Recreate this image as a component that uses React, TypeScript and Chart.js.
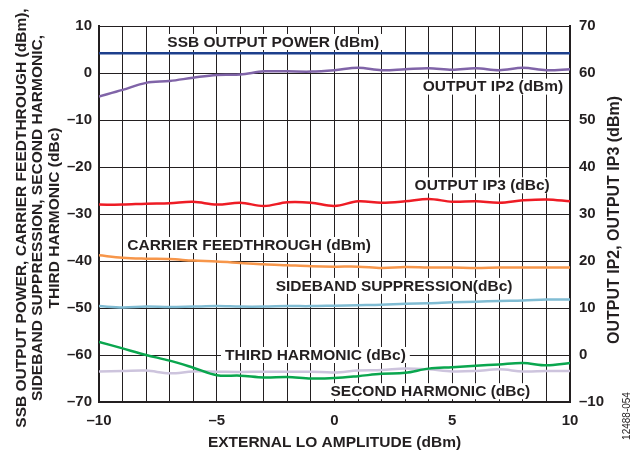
import React, { useEffect, useRef } from "react";
import { Chart, registerables } from "chart.js";

Chart.register(...registerables);

const X_VALUES = [-10, -9, -8, -7, -6, -5, -4, -3, -2, -1, 0, 1, 2, 3, 4, 5, 6, 7, 8, 9, 10];
const SSB_POWER = [4.2, 4.2, 4.2, 4.2, 4.2, 4.2, 4.2, 4.2, 4.2, 4.2, 4.2, 4.2, 4.2, 4.2, 4.2, 4.2, 4.2, 4.2, 4.2, 4.2, 4.2];
const OUTPUT_IP2 = [55.0, 56.4, 57.9, 58.3, 59.0, 59.6, 59.7, 60.35, 60.35, 60.3, 60.6, 61.1, 60.6, 60.8, 61.0, 60.7, 61.0, 60.6, 61.1, 60.6, 60.8];
const OUTPUT_IP3 = [32.0, 32.0, 32.2, 32.3, 32.6, 32.0, 32.4, 31.7, 32.5, 32.4, 31.7, 32.7, 32.4, 32.7, 33.2, 32.6, 32.7, 32.4, 32.9, 33.1, 32.7];
const CARRIER_FT = [-38.8, -39.3, -39.5, -39.6, -39.9, -40.1, -40.4, -40.7, -40.9, -41.1, -41.2, -41.2, -41.5, -41.3, -41.4, -41.4, -41.5, -41.4, -41.4, -41.4, -41.4];
const SIDEBAND_SUP = [-49.6, -49.9, -49.7, -49.8, -49.7, -49.6, -49.7, -49.7, -49.6, -49.6, -49.5, -49.4, -49.3, -49.1, -49.0, -48.8, -48.65, -48.5, -48.4, -48.2, -48.2];
const THIRD_HARM = [-57.2, -58.6, -60.0, -61.2, -62.7, -64.3, -64.4, -64.8, -64.7, -65.0, -64.9, -64.5, -64.0, -63.8, -62.9, -62.6, -62.3, -62.0, -61.7, -62.2, -61.7];
const SECOND_HARM = [-63.5, -63.4, -63.3, -63.9, -63.5, -63.55, -63.6, -63.55, -63.55, -63.55, -63.7, -63.3, -63.2, -62.85, -63.05, -63.5, -63.4, -63.05, -63.5, -63.4, -63.4];

const LEFT_TITLE = ["SSB OUTPUT POWER, CARRIER FEEDTHROUGH (dBm),", "SIDEBAND SUPPRESSION, SECOND HARMONIC,", "THIRD HARMONIC (dBc)"];
const RIGHT_TITLE = "OUTPUT IP2, OUTPUT IP3 (dBm)";
const X_TITLE = "EXTERNAL LO AMPLITUDE (dBm)";
const FIG_TAG = "12488-054";

// series label texts with anchor positions (x in data units, y in left-axis data units)
const SERIES_LABELS = [
  "SSB OUTPUT POWER (dBm)",
  "OUTPUT IP2 (dBm)",
  "OUTPUT IP3 (dBc)",
  "CARRIER FEEDTHROUGH (dBm)",
  "SIDEBAND SUPPRESSION(dBc)",
  "THIRD HARMONIC (dBc)",
  "SECOND HARMONIC (dBc)",
];
const LABEL_X = [-7.1, 3.75, 3.4, -8.8, -2.5, -4.65, -0.17];
const LABEL_Y = [6.6, -2.9, -23.9, -36.6, -45.3, -60.0, -67.7];

const FONT = "'Liberation Sans', Arial, sans-serif";
const INK = "#231f20";

const fmt = (v: number) => (v < 0 ? "\u2013" + Math.abs(v) : String(v));

const pts = (ys: number[]) => X_VALUES.map((x, i) => ({ x, y: ys[i] }));

export default function App() {
  const ref = useRef<HTMLCanvasElement | null>(null);

  useEffect(() => {
    document.body.style.margin = "0";
    const canvas = ref.current;
    if (!canvas) return;

    const decorPlugin = {
      id: "decor",
      afterDatasetsDraw(chart: any) {
        const ctx = chart.ctx;
        const xs = chart.scales.x;
        const ys = chart.scales.y;
        ctx.save();
        ctx.font = `bold 15.5px ${FONT}`;
        ctx.textBaseline = "middle";
        ctx.textAlign = "left";
        SERIES_LABELS.forEach((t, i) => {
          const px = xs.getPixelForValue(LABEL_X[i]);
          const py = ys.getPixelForValue(LABEL_Y[i]);
          const w = ctx.measureText(t).width;
          ctx.fillStyle = "#ffffff";
          ctx.fillRect(px - 4, py - 8, w + 8, 16);
          ctx.fillStyle = INK;
          ctx.fillText(t, px, py + 0.5);
        });
        ctx.restore();
      },
      afterDraw(chart: any) {
        const ctx = chart.ctx;
        const area = chart.chartArea;
        ctx.save();
        ctx.fillStyle = INK;
        ctx.textAlign = "center";
        ctx.textBaseline = "middle";
        ctx.font = `bold 15.5px ${FONT}`;
        // left title
        const lx = [21.5, 38, 54.5];
        LEFT_TITLE.forEach((t, i) => {
          ctx.save();
          ctx.translate(lx[i], 218);
          ctx.rotate(-Math.PI / 2);
          ctx.fillText(t, 0, 0);
          ctx.restore();
        });
        // right title
        ctx.save();
        ctx.font = `bold 16px ${FONT}`;
        ctx.translate(614.5, 220);
        ctx.rotate(-Math.PI / 2);
        ctx.fillText(RIGHT_TITLE, 0, 0);
        ctx.restore();
        // x title
        ctx.fillText(X_TITLE, (area.left + area.right) / 2, 443);
        // figure tag
        ctx.save();
        ctx.font = `10px ${FONT}`;
        ctx.translate(627, 416);
        ctx.rotate(-Math.PI / 2);
        ctx.fillText(FIG_TAG, 0, 0);
        ctx.restore();
        ctx.restore();
      },
    };

    const mk = (label: string, ys: number[], color: string, axis: string) => ({
      label,
      data: pts(ys),
      borderColor: color,
      backgroundColor: color,
      borderWidth: 2.5,
      pointRadius: 0,
      tension: 0.35,
      yAxisID: axis,
      fill: false,
    });

    const chart = new Chart(canvas, {
      type: "line",
      data: {
        datasets: [
          mk("SSB OUTPUT POWER (dBm)", SSB_POWER, "#1d3f8c", "y"),
          mk("OUTPUT IP2 (dBm)", OUTPUT_IP2, "#8064a8", "y1"),
          mk("OUTPUT IP3 (dBc)", OUTPUT_IP3, "#ee1c25", "y1"),
          mk("CARRIER FEEDTHROUGH (dBm)", CARRIER_FT, "#f7964a", "y"),
          mk("SIDEBAND SUPPRESSION(dBc)", SIDEBAND_SUP, "#80bcd3", "y"),
          mk("THIRD HARMONIC (dBc)", THIRD_HARM, "#0aa64e", "y"),
          mk("SECOND HARMONIC (dBc)", SECOND_HARM, "#cdc4dd", "y"),
        ],
      },
      options: {
        responsive: false,
        animation: false,
        layout: { padding: { top: 26, bottom: 0, left: 0, right: 0 } },
        plugins: { legend: { display: false }, tooltip: { enabled: false } },
        scales: {
          x: {
            type: "linear",
            min: -10,
            max: 10,
            afterFit: (s: any) => {
              s.height = 51;
            },
            ticks: {
              stepSize: 1,
              autoSkip: false,
              maxRotation: 0,
              padding: 10,
              color: INK,
              font: { family: FONT, size: 15, weight: "bold" },
              callback: (v: any) => (Number(v) % 5 === 0 ? fmt(Number(v)) : ""),
            },
            grid: { color: INK, lineWidth: 1, drawTicks: false },
            border: { color: INK, width: 2 },
          },
          y: {
            type: "linear",
            position: "left",
            min: -70,
            max: 10,
            afterFit: (s: any) => {
              s.width = 99;
            },
            ticks: {
              stepSize: 10,
              padding: 7,
              color: INK,
              font: { family: FONT, size: 15, weight: "bold" },
              callback: (v: any) => fmt(Number(v)),
            },
            grid: { color: INK, lineWidth: 1, drawTicks: false },
            border: { color: INK, width: 2 },
          },
          y1: {
            type: "linear",
            position: "right",
            min: -10,
            max: 70,
            afterFit: (s: any) => {
              s.width = 70;
            },
            ticks: {
              stepSize: 10,
              padding: 9,
              color: INK,
              font: { family: FONT, size: 15, weight: "bold" },
              callback: (v: any) => fmt(Number(v)),
            },
            grid: { drawOnChartArea: false, drawTicks: false, color: INK },
            border: { color: INK, width: 2 },
          },
        },
      },
      plugins: [decorPlugin],
    } as any);

    return () => chart.destroy();
  }, []);

  return (
    <div style={{ width: 640, height: 453, background: "#fff" }}>
      <canvas ref={ref} width={640} height={453} style={{ display: "block" }} />
    </div>
  );
}
